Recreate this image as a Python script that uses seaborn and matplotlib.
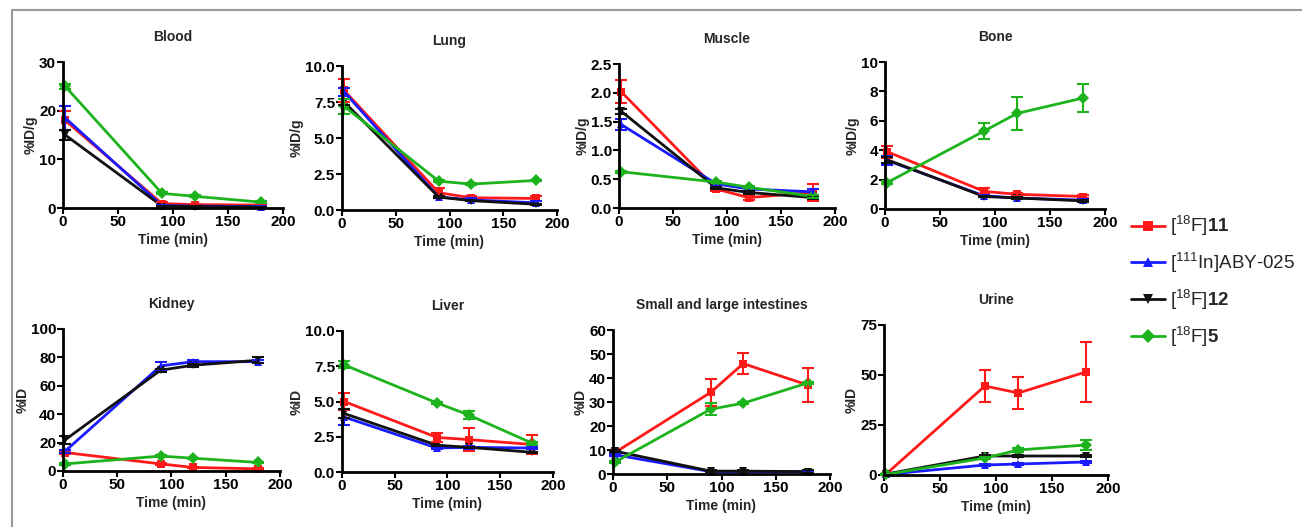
import matplotlib
matplotlib.use("Agg")
import matplotlib.pyplot as plt
from matplotlib.lines import Line2D
import seaborn as sns
import pandas as pd

# sampling times (min)
times = [2, 90, 120, 180]
compounds = ["[18F]11", "[111In]ABY-025", "[18F]12", "[18F]5"]
labels = [r"[$^{18}$F]$\mathbf{11}$", r"[$^{111}$In]ABY-025",
          r"[$^{18}$F]$\mathbf{12}$", r"[$^{18}$F]$\mathbf{5}$"]
colors = ["#ff1a1a", "#1a1aff", "#111111", "#1db31d"]
markers = ["s", "^", "v", "D"]

# mean values per organ, order follows compounds
blood = [[18, 0.9, 0.7, 0.6], [18.5, 0.5, 0.4, 0.3], [15, 0.4, 0.3, 0.2], [25, 3.0, 2.4, 1.2]]
blood_sd = [[2, 0.3, 0.2, 0.1], [2.5, 0.1, 0.1, 0.1], [1, 0.1, 0.1, 0.1], [0.5, 0.2, 0.2, 0.2]]
lung = [[8.3, 1.2, 0.85, 0.8], [8.2, 0.9, 0.7, 0.5], [7.5, 0.9, 0.65, 0.4], [7.2, 2.0, 1.8, 2.05]]
lung_sd = [[0.8, 0.3, 0.15, 0.15], [0.3, 0.1, 0.1, 0.1], [0.2, 0.05, 0.05, 0.05], [0.5, 0.05, 0.05, 0.05]]
muscle = [[2.02, 0.33, 0.18, 0.27], [1.45, 0.42, 0.33, 0.28], [1.68, 0.35, 0.27, 0.18], [0.63, 0.45, 0.36, 0.2]]
muscle_sd = [[0.2, 0.04, 0.04, 0.14], [0.1, 0.04, 0.03, 0.05], [0.04, 0.02, 0.02, 0.02], [0.02, 0.02, 0.02, 0.03]]
bone = [[3.9, 1.2, 1.0, 0.85], [3.3, 0.9, 0.75, 0.6], [3.35, 0.85, 0.75, 0.55], [1.8, 5.3, 6.5, 7.55]]
bone_sd = [[0.4, 0.2, 0.1, 0.1], [0.3, 0.05, 0.05, 0.05], [0.2, 0.05, 0.05, 0.05], [0.1, 0.55, 1.1, 0.95]]
kidney = [[13, 5, 2.5, 1.5], [14, 74, 77, 77], [22, 71, 74.5, 78], [5, 10.5, 9, 6]]
kidney_sd = [[1, 0.5, 0.5, 0.5], [1, 3, 1, 1], [3, 1, 1, 2], [0.5, 0.5, 0.5, 0.5]]
liver = [[5.0, 2.45, 2.3, 1.95], [3.9, 1.7, 1.75, 1.7], [4.15, 1.9, 1.75, 1.4], [7.6, 4.9, 4.05, 2.05]]
liver_sd = [[0.6, 0.3, 0.8, 0.65], [0.6, 0.1, 0.1, 0.1], [0.3, 0.05, 0.05, 0.05], [0.25, 0.05, 0.3, 0.1]]
intestines = [[9, 34, 46, 37], [8, 1, 1, 1], [9.5, 1.2, 1.2, 1], [5, 27, 29.5, 38]]
intestines_sd = [[0.5, 5.5, 4.5, 7], [0.5, 0.3, 0.3, 0.3], [0.5, 0.5, 0.5, 0.5], [0.5, 2.5, 0.5, 0.5]]
urine = [[0.5, 44.5, 41, 51.5], [0.3, 5, 5.5, 6.5], [0.5, 9.5, 9.5, 9.5], [0.3, 8.5, 12.5, 15]]
urine_sd = [[0.2, 8, 8, 15], [0.1, 0.5, 0.5, 0.5], [0.1, 0.5, 0.5, 0.5], [0.1, 0.5, 1, 2.5]]

panels = [
    ("Blood", blood, blood_sd, "%ID/g", 30, [0, 10, 20, 30], "{:.0f}"),
    ("Lung", lung, lung_sd, "%ID/g", 10, [0, 2.5, 5, 7.5, 10], "{:.1f}"),
    ("Muscle", muscle, muscle_sd, "%ID/g", 2.5, [0, 0.5, 1, 1.5, 2, 2.5], "{:.1f}"),
    ("Bone", bone, bone_sd, "%ID/g", 10, [0, 2, 4, 6, 8, 10], "{:.0f}"),
    ("Kidney", kidney, kidney_sd, "%ID", 100, [0, 20, 40, 60, 80, 100], "{:.0f}"),
    ("Liver", liver, liver_sd, "%ID", 10, [0, 2.5, 5, 7.5, 10], "{:.1f}"),
    ("Small and large intestines", intestines, intestines_sd, "%ID", 60, [0, 10, 20, 30, 40, 50, 60], "{:.0f}"),
    ("Urine", urine, urine_sd, "%ID", 75, [0, 25, 50, 75], "{:.0f}"),
]

# axes boxes in pixels: left, right, top, bottom
boxes = [(63, 283, 62, 208), (342, 557, 66, 210), (619, 835, 64, 208), (885, 1105, 62, 209),
         (63, 280, 329, 471), (342, 553, 331, 472), (613, 830, 330, 474), (884, 1108, 325, 475)]

sns.set_style("ticks")
plt.rcParams["font.family"] = ["Liberation Sans", "DejaVu Sans"]
plt.rcParams["mathtext.fontset"] = "custom"
plt.rcParams["mathtext.rm"] = "Liberation Sans"
plt.rcParams["mathtext.bf"] = "Liberation Sans:bold"
plt.rcParams["mathtext.it"] = "Liberation Sans:italic"

W, H = 1302, 527
fig = plt.figure(figsize=(W / 100, H / 100), dpi=100)

for (title, means, sds, ylab, ymax, yticks, fmt), (l, r, t, b) in zip(panels, boxes):
    ax = fig.add_axes([l / W, 1 - b / H, (r - l) / W, (b - t) / H])
    rows = []
    for name, vals in zip(compounds, means):
        for x, v in zip(times, vals):
            rows.append({"time": x, "value": v, "compound": name})
    df = pd.DataFrame(rows)
    sns.lineplot(data=df, x="time", y="value", hue="compound", style="compound",
                 palette=dict(zip(compounds, colors)), markers=dict(zip(compounds, markers)),
                 dashes=False, linewidth=2, markersize=6, markeredgewidth=0,
                 legend=False, ax=ax, clip_on=False)
    for vals, err, c in zip(means, sds, colors):
        ax.errorbar(times, vals, yerr=err, fmt="none", ecolor=c, elinewidth=1.5,
                    capsize=4, capthick=1.5, clip_on=False)
    ax.set_xlim(0, 200)
    ax.set_ylim(0, ymax)
    ax.set_xticks([0, 50, 100, 150, 200])
    ax.set_yticks(yticks)
    ax.set_yticklabels([fmt.format(v) for v in yticks])
    sns.despine(ax=ax)
    for s in ["left", "bottom"]:
        ax.spines[s].set_linewidth(2)
        ax.spines[s].set_color("black")
    ax.tick_params(width=1.5, length=4, labelsize=11, pad=1, colors="black")
    for lab in ax.get_xticklabels() + ax.get_yticklabels():
        lab.set_fontweight("bold")
    ax.set_title(title, fontsize=10, fontweight="bold", pad=15)
    ax.set_xlabel("Time (min)", fontsize=10, fontweight="bold", labelpad=3)
    ax.set_ylabel(ylab, fontsize=10, fontweight="bold", labelpad=1)

handles = [Line2D([0], [0], color=c, marker=m, lw=2, markersize=7, markeredgewidth=0)
           for c, m in zip(colors, markers)]
fig.legend(handles, labels, loc="upper left", bbox_to_anchor=(1131 / W, 1 - 214 / H),
           frameon=False, fontsize=13.5, handlelength=1.8, labelspacing=0.68,
           handletextpad=0.3, borderpad=0, borderaxespad=0)

# thin gray frame left and top
fig.add_artist(Line2D([12 / W, 12 / W], [0, 1 - 10 / H], color="#999999", lw=1.5))
fig.add_artist(Line2D([12 / W, 1], [1 - 10 / H, 1 - 10 / H], color="#999999", lw=1.5))

fig.savefig("out.png", dpi=100)
